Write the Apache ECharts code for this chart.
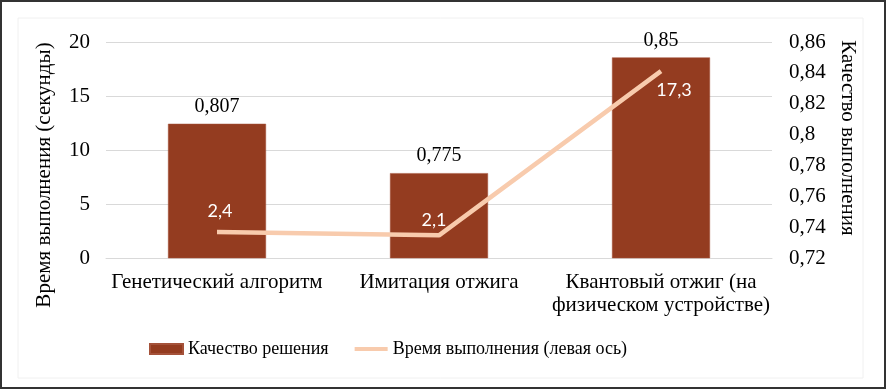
<!DOCTYPE html>
<html>
<head>
<meta charset="utf-8">
<script src="https://cdn.jsdelivr.net/npm/echarts@6/dist/echarts.min.js"></script>
<style>
html,body{margin:0;padding:0;background:#fff;}
#c{width:886px;height:390px;}
</style>
</head>
<body>
<div id="c"></div>
<script>
const categories = ['Генетический алгоритм', 'Имитация отжига', 'Квантовый отжиг (на\nфизическом устройстве)'];
const qualityValues = [0.807, 0.775, 0.85];
const timeValues = [2.4, 2.1, 17.3];
const leftTicks = { min: 0, max: 20, interval: 5 };
const rightTicks = { min: 0.72, max: 0.86, interval: 0.02 };
const seriesNames = ['Качество решения', 'Время выполнения (левая ось)'];
const axisNames = ['Время выполнения (секунды)', 'Качество выполнения'];

const serif = '"Liberation Serif", "Times New Roman", serif';
const sans = 'Lato, "Open Sans", sans-serif';
const fmt = v => String(Number(Number(v).toFixed(3))).replace('.', ',');

const linePos = [
  { position: 'top', distance: 12, offset: [3, 0] },
  { position: 'top', distance: 6, offset: [-5, 0] },
  { position: 'bottom', distance: 10, offset: [13, 0] }
];

const chart = echarts.init(document.getElementById('c'), null, { renderer: 'canvas' });
chart.setOption({
  animation: false,
  backgroundColor: '#fff',
  grid: { left: 106, right: 114, top: 42, bottom: 132 },
  legend: {
    bottom: 32,
    left: 149,
    padding: 0,
    itemWidth: 33,
    itemHeight: 10,
    itemGap: 24,
    textStyle: { fontFamily: serif, fontSize: 18, color: '#000' },
    data: [
      { name: seriesNames[0], icon: 'rect' },
      { name: seriesNames[1], itemStyle: { opacity: 0 }, lineStyle: { width: 4 } }
    ]
  },
  xAxis: {
    type: 'category',
    data: categories,
    axisLine: { show: true, lineStyle: { color: '#D9D9D9', width: 1 } },
    axisTick: { show: false },
    axisLabel: { fontFamily: serif, fontSize: 21, color: '#000', margin: 13, lineHeight: 23, interval: 0 }
  },
  yAxis: [
    {
      type: 'value',
      min: leftTicks.min, max: leftTicks.max, interval: leftTicks.interval,
      axisLine: { show: false },
      axisTick: { show: false },
      splitLine: { lineStyle: { color: '#D9D9D9', width: 1 } },
      axisLabel: { fontFamily: serif, fontSize: 21, color: '#000', margin: 16 }
    },
    {
      type: 'value',
      min: rightTicks.min, max: rightTicks.max, interval: rightTicks.interval,
      axisLine: { show: false },
      axisTick: { show: false },
      splitLine: { show: false },
      axisLabel: { fontFamily: serif, fontSize: 21, color: '#000', margin: 17, formatter: v => fmt(v) }
    }
  ],
  series: [
    {
      name: seriesNames[0],
      type: 'bar',
      yAxisIndex: 1,
      barWidth: 98,
      data: qualityValues,
      itemStyle: { color: '#943C20', borderColor: '#A5523A', borderWidth: 0.5 },
      label: { show: true, position: 'top', distance: 7, fontFamily: serif, fontSize: 20, color: '#000', formatter: p => fmt(p.value) },
      z: 2
    },
    {
      name: seriesNames[1],
      type: 'line',
      yAxisIndex: 0,
      symbol: 'circle',
      symbolSize: 0.01,
      showSymbol: true,
      data: timeValues.map((v, i) => ({ value: v, label: linePos[i] })),
      lineStyle: { color: '#F8CBAD', width: 4.5 },
      itemStyle: { color: '#F8CBAD' },
      label: { show: true, fontFamily: sans, fontSize: 18, color: '#fff', formatter: p => fmt(p.value) },
      z: 3
    }
  ],
  graphic: [
    { type: 'rect', shape: { x: 1, y: 1, width: 884, height: 387 }, style: { fill: 'none', stroke: '#333', lineWidth: 2 }, silent: true },
    { type: 'rect', shape: { x: 18, y: 18, width: 845, height: 360 }, style: { fill: 'none', stroke: '#F0F0F0', lineWidth: 1 }, silent: true },
    { type: 'text', x: 44, y: 175, rotation: Math.PI / 2, style: { text: axisNames[0], fontFamily: serif, fontSize: 21, fill: '#000', align: 'center', verticalAlign: 'middle' } },
    { type: 'text', x: 848, y: 138, rotation: -Math.PI / 2, style: { text: axisNames[1], fontFamily: serif, fontSize: 21, fill: '#000', align: 'center', verticalAlign: 'middle' } }
  ]
});
</script>
</body>
</html>
